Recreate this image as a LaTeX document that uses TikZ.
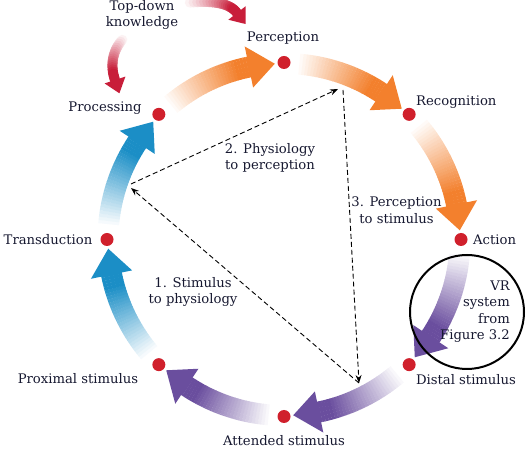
\documentclass[tikz,border=0pt]{standalone}
\usepackage{fontspec}
\setmainfont{DejaVu Serif}
\usetikzlibrary{calc,arrows.meta}
\definecolor{corange}{RGB}{243,128,45}
\definecolor{cpurple}{RGB}{106,78,158}
\definecolor{cblue}{RGB}{27,142,198}
\definecolor{cdot}{RGB}{208,32,44}
\definecolor{cred}{RGB}{200,30,58}
\definecolor{ctext}{RGB}{22,24,48}
% big gradient arc arrow: #1 = start angle (dot it leaves), #2 = colour
\newcommand\cyclearrow[2]{%
  \foreach \ii in {0,...,29}{%
    \pgfmathsetmacro\arcS{#1-4-\ii}%
    \pgfmathsetmacro\arcE{\arcS-1.1}%
    \pgfmathtruncatemacro\arcP{min(100,\ii*100/25)}%
    \draw[line width=21pt, color=#2!\arcP!white]
      ($(C)+(\arcS:176pt)$) arc[start angle=\arcS, end angle=\arcE, radius=176pt];
  }%
  \pgfmathsetmacro\hB{#1-33.5}%
  \pgfmathsetmacro\hT{#1-42}%
  \fill[#2] ($(C)+(\hB:155pt)$) -- ($(C)+(\hT:176pt)$) -- ($(C)+(\hB:197pt)$) -- cycle;
}
% red gradient curved arrow from named coordinates #1..#4 (bezier), prefix #5
\newcommand\redarrow[5]{%
  \foreach \ii in {0,...,20}{%
    \path (#1) .. controls (#2) and (#3) .. (#4) coordinate[pos=\ii/20] (#5-\ii);
  }%
  \foreach \ii in {0,...,19}{%
    \pgfmathtruncatemacro\nxt{\ii+1}%
    \pgfmathtruncatemacro\rp{min(100,\ii*6)}%
    \draw[line width=10pt, line cap=round, color=cred!\rp!white] (#5-\ii) -- (#5-\nxt);
  }%
  \fill[cred] ($(#5-20)!11pt!90:(#5-19)$) -- ($(#5-20)!-14pt!(#5-19)$) -- ($(#5-20)!11pt!-90:(#5-19)$) -- cycle;
}
\begin{document}
\begin{tikzpicture}[x=1pt,y=1pt,
  lab/.style={font=\fontsize{13.2}{16.5}\selectfont, text=ctext, inner sep=0pt, align=center},
  dot/.style={circle, fill=cdot, minimum size=13pt, inner sep=0pt},
  dasharrow/.style={dashed, dash pattern=on 5pt off 3pt, line width=0.9pt, -{Stealth[length=8pt,width=6pt]}}]
\useasboundingbox (0,0) rectangle (527,452);
\coordinate (C) at (284,212.5);

% cycle arrows
\cyclearrow{135}{corange}
\cyclearrow{90}{corange}
\cyclearrow{45}{corange}
\cyclearrow{0}{cpurple}
\cyclearrow{-45}{cpurple}
\cyclearrow{-90}{cpurple}
\cyclearrow{-135}{cblue}
\cyclearrow{180}{cblue}

% top-down knowledge arrows
\coordinate (ta0) at (186,449);
\coordinate (ta1) at (212,452);
\coordinate (ta2) at (230,449);
\coordinate (ta3) at (237,439);
\redarrow{ta0}{ta1}{ta2}{ta3}{qa}
\coordinate (tb0) at (124,414);
\coordinate (tb1) at (112,402);
\coordinate (tb2) at (110,386);
\coordinate (tb3) at (115,372);
\redarrow{tb0}{tb1}{tb2}{tb3}{qb}

% dots
\node[dot] (per) at ($(C)+(90:177pt)$) {};
\node[dot] (rec) at ($(C)+(45:177pt)$) {};
\node[dot] (act) at ($(C)+(0:177pt)$) {};
\node[dot] (dis) at ($(C)+(-45:177pt)$) {};
\node[dot] (att) at ($(C)+(-90:177pt)$) {};
\node[dot] (pro) at ($(C)+(-135:177pt)$) {};
\node[dot] (tra) at ($(C)+(180:177pt)$) {};
\node[dot] (prc) at ($(C)+(135:177pt)$) {};

% labels
\node[lab] (lper) at (283,414) {Perception};
\node[lab, anchor=west] (lrec) at (416,350) {Recognition};
\node[lab, anchor=west] (lact) at (473,212) {Action};
\node[lab] (ldis) at (466,72) {Distal stimulus};
\node[lab] (latt) at (284,11) {Attended stimulus};
\node[lab] (lpro) at (78,73) {Proximal stimulus};
\node[lab] (ltra) at (48,212) {Transduction};
\node[lab] (lprc) at (105,344) {Processing};
\node[lab] (ltop) at (142,437) {Top-down\\knowledge};
\node[lab] (l2) at (270,294) {2. Physiology\\to perception};
\node[lab] (l3) at (396.5,242) {3. Perception\\to stimulus};
\node[lab] (l1) at (193,160) {1. Stimulus\\to physiology};

% VR circle
\node[draw=black, line width=2pt, circle, minimum size=114pt, inner sep=0pt] (vr) at (467,140) {};
\node[lab, align=right, anchor=east] (lvr) at (510,140.5) {VR\\system\\from\\Figure 3.2};

% dashed triangle
\coordinate (dA) at (359,69);
\coordinate (dB) at (131,264);
\coordinate (dB2) at (131,268);
\coordinate (dC) at (338,363);
\coordinate (dC2) at (343,362);
\draw[dasharrow] (dA) -- (dB);
\draw[dasharrow] (dB2) -- (dC);
\draw[dasharrow] (dC2) -- (dA);
\end{tikzpicture}
\end{document}
